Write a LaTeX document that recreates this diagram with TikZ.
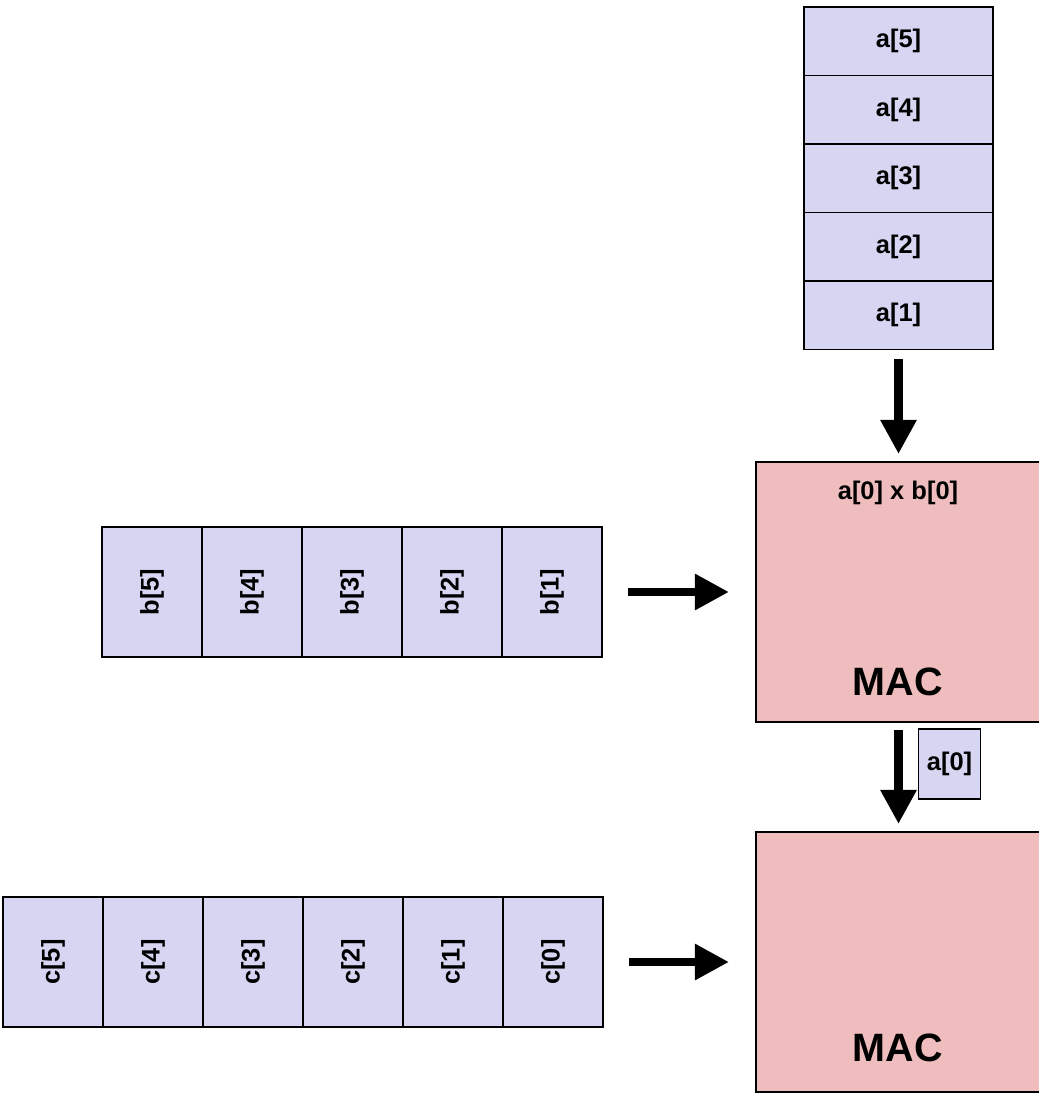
\documentclass[tikz,border=0pt]{standalone}
\usepackage{fontspec}
\setmainfont{Liberation Sans}
\usetikzlibrary{arrows.meta}

\definecolor{cellblue}{RGB}{214,214,243}
\definecolor{macpink}{RGB}{239,189,189}

\begin{document}
\begin{tikzpicture}[
        cell/.style={draw, line width=1.1pt, fill=cellblue, inner sep=0pt,
            minimum width=2cm, minimum height=2.6cm,
            font=\fontsize{14.5}{17}\selectfont\bfseries},
        acell/.style={cell, minimum width=3.78cm, minimum height=1.37cm},
        mac/.style={draw, line width=1.1pt, fill=macpink, inner sep=0pt,
            minimum width=6cm, minimum height=5.2cm},
        bigfont/.style={font=\fontsize{22.5}{27}\selectfont\bfseries},
        flow/.style={line width=5pt, -{Triangle[width=19.5pt, length=19.5pt]}}
    ]
    \useasboundingbox (0, 0) rectangle (20.76, -21.92);

    % input a
    \node[acell] (a5) at (17.97, -0.825) {a[5]};
    \node[acell] (a4) at (17.97, -2.195) {a[4]};
    \node[acell] (a3) at (17.97, -3.565) {a[3]};
    \node[acell] (a2) at (17.97, -4.935) {a[2]};
    \node[acell] (a1) at (17.97, -6.305) {a[1]};

    % MAC units
    \node[mac] (mac1) at (18.12, -11.84) {};
    \node[mac] (mac2) at (18.12, -19.24) {};
    \node[font=\fontsize{14.5}{17}\selectfont\bfseries] (prod) at (17.96, -9.86) {a[0] x b[0]};
    \node[bigfont] (mac1lbl) at (17.96, -13.64) {MAC};
    \node[bigfont] (mac2lbl) at (17.96, -20.96) {MAC};

    % input b
    \node[cell] (b5) at (3.04, -11.84) {\rotatebox{90}{b[5]}};
    \node[cell] (b4) at (5.04, -11.84) {\rotatebox{90}{b[4]}};
    \node[cell] (b3) at (7.04, -11.84) {\rotatebox{90}{b[3]}};
    \node[cell] (b2) at (9.04, -11.84) {\rotatebox{90}{b[2]}};
    \node[cell] (b1) at (11.04, -11.84) {\rotatebox{90}{b[1]}};

    % output c
    \node[cell] (c5) at (1.06, -19.24) {\rotatebox{90}{c[5]}};
    \node[cell] (c4) at (3.06, -19.24) {\rotatebox{90}{c[4]}};
    \node[cell] (c3) at (5.06, -19.24) {\rotatebox{90}{c[3]}};
    \node[cell] (c2) at (7.06, -19.24) {\rotatebox{90}{c[2]}};
    \node[cell] (c1) at (9.06, -19.24) {\rotatebox{90}{c[1]}};
    \node[cell] (c0) at (11.06, -19.24) {\rotatebox{90}{c[0]}};

    % forwarded a[0]
    \node[cell, minimum width=1.24cm, minimum height=1.4cm] (a0) at (18.99, -15.28) {a[0]};

    \draw[flow, shorten <=0.18cm, shorten >=0.14cm] (a1.south) -- (a1.south |- mac1.north);
    \draw[flow, shorten <=0.5cm, shorten >=0.52cm] (b1.east) -- (mac1.west);
    \draw[flow, shorten <=0.14cm, shorten >=0.14cm] (mac1.south -| a1.south) -- (mac2.north -| a1.south);
    \draw[flow, shorten <=0.5cm, shorten >=0.52cm] (c0.east) -- (mac2.west);
\end{tikzpicture}
\end{document}
